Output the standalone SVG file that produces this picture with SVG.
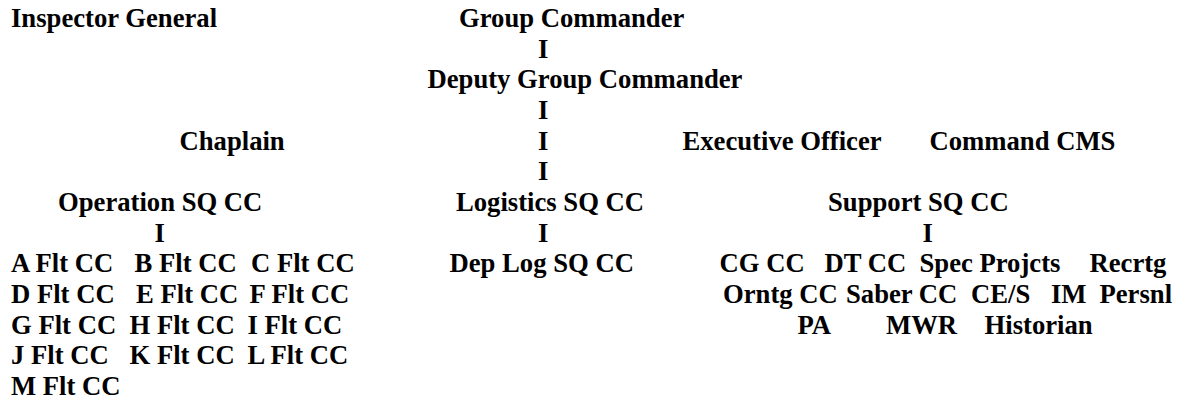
<svg xmlns="http://www.w3.org/2000/svg" width="1182" height="403" viewBox="0 0 1182 403">
  <style>
    .t { font-family: 'Liberation Serif', 'Times New Roman', Times, 'DejaVu Serif', serif; font-weight: 700; font-size: 26.67px; fill: #000; }
  </style>
  <rect width="1182" height="403" fill="#fff"/>

  <g class="t" font-family="Liberation Serif, DejaVu Serif, serif" font-weight="bold" font-size="26.67">
  <!-- top row -->
  <g id="inspector-general"><text x="11" y="27">Inspector General</text></g>
  <g id="group-commander"><text x="459" y="27">Group Commander</text></g>
  <g id="deputy-group-commander"><text x="427.5" y="88.3">Deputy Group Commander</text></g>

  <!-- staff -->
  <g id="chaplain"><text x="179.5" y="149.6">Chaplain</text></g>
  <g id="executive-officer"><text x="682.5" y="149.6">Executive Officer</text></g>
  <g id="command-cms"><text x="929.5" y="149.6">Command CMS</text></g>

  <!-- squadrons -->
  <g id="operation-sq-cc"><text x="58" y="211">Operation SQ CC</text></g>
  <g id="logistics-sq-cc"><text x="456" y="211">Logistics SQ CC</text></g>
  <g id="support-sq-cc"><text x="828" y="211">Support SQ CC</text></g>

  <!-- flights under Operations -->
  <g id="a-flt"><text x="11" y="272.2">A Flt CC</text></g>
  <g id="b-flt"><text x="134.5" y="272.2">B Flt CC</text></g>
  <g id="c-flt"><text x="251" y="272.2">C Flt CC</text></g>
  <g id="d-flt"><text x="11" y="302.9">D Flt CC</text></g>
  <g id="e-flt"><text x="136" y="302.9">E Flt CC</text></g>
  <g id="f-flt"><text x="249.5" y="302.9">F Flt CC</text></g>
  <g id="g-flt"><text x="11" y="333.5">G Flt CC</text></g>
  <g id="h-flt"><text x="129.5" y="333.5">H Flt CC</text></g>
  <g id="i-flt"><text x="247.5" y="333.5">I Flt CC</text></g>
  <g id="j-flt"><text x="11" y="364.2">J Flt CC</text></g>
  <g id="k-flt"><text x="129.5" y="364.2">K Flt CC</text></g>
  <g id="l-flt"><text x="247.5" y="364.2">L Flt CC</text></g>
  <g id="m-flt"><text x="11" y="394.8">M Flt CC</text></g>

  <!-- under Logistics -->
  <g id="dep-log-sq-cc"><text x="449.5" y="272.2">Dep Log SQ CC</text></g>

  <!-- under Support -->
  <g id="cg-cc"><text x="719.5" y="272.2">CG CC</text></g>
  <g id="dt-cc"><text x="824.5" y="272.2">DT CC</text></g>
  <g id="spec-projcts"><text x="919.5" y="272.2">Spec Projcts</text></g>
  <g id="recrtg"><text x="1089.5" y="272.2">Recrtg</text></g>
  <g id="orntg-cc"><text x="723" y="302.9">Orntg CC</text></g>
  <g id="saber-cc"><text x="846" y="302.9">Saber CC</text></g>
  <g id="ce-s"><text x="971" y="302.9">CE/S</text></g>
  <g id="im"><text x="1051" y="302.9">IM</text></g>
  <g id="persnl"><text x="1099.5" y="302.9">Persnl</text></g>
  <g id="pa"><text x="797.5" y="333.5">PA</text></g>
  <g id="mwr"><text x="886" y="333.5">MWR</text></g>
  <g id="historian"><text x="984.5" y="333.5">Historian</text></g>

  <!-- connectors: vertical bars typed as the letter I -->
  <g id="connectors">
    <text x="538" y="57.7">I</text>
    <text x="538" y="119">I</text>
    <text x="538" y="149.6">I</text>
    <text x="538" y="180.3">I</text>
    <text x="154.5" y="241.6">I</text>
    <text x="538" y="241.6">I</text>
    <text x="922.5" y="241.6">I</text>
  </g>
  </g>
</svg>
